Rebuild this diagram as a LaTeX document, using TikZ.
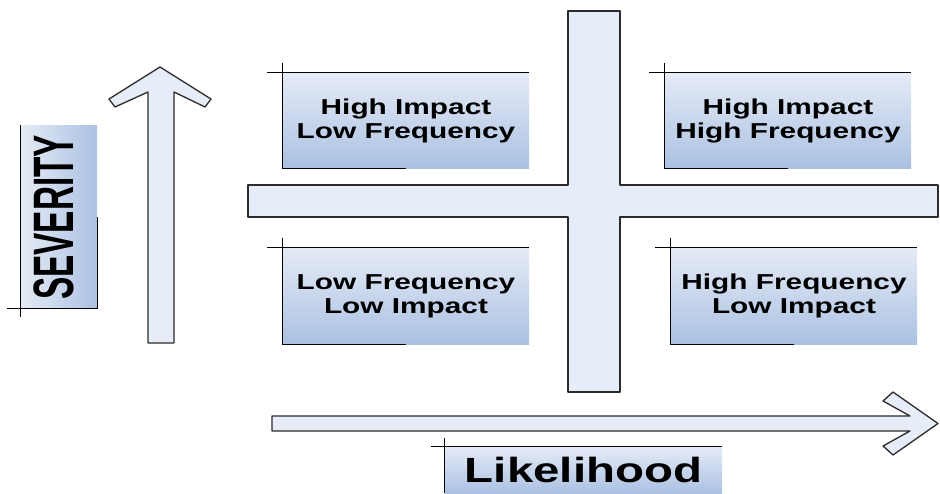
\documentclass[tikz,border=0pt]{standalone}
\usepackage{fontspec}
\newfontfamily\boxfont{Liberation Sans}[FakeStretch=1.38]
\newfontfamily\likefont{Liberation Sans}[FakeStretch=1.355]
\newfontfamily\sevfont{Liberation Sans}[FakeStretch=0.585]
\definecolor{barfill}{HTML}{E6EDF8}
\definecolor{barline}{HTML}{2B2B2B}
\definecolor{gradtop}{HTML}{E5EBF6}
\definecolor{gradbot}{HTML}{ABC1E2}
\begin{document}
\begin{tikzpicture}[x=1pt,y=-1pt,
  bar/.style={fill=barfill, draw=barline, line width=1.3pt, line join=round},
  quad/.style={minimum width=246pt, minimum height=95pt, inner sep=0pt,
    top color=gradtop, bottom color=gradbot, align=center,
    font=\boxfont\bfseries\fontsize{21.6}{24}\selectfont},
  tick/.style={draw=black, line width=0.9pt}]
\useasboundingbox (0,0) rectangle (940,493);

% central cross
\draw[bar] (248,185) -- (568,185) -- (568,11) -- (620,11) -- (620,185)
  -- (938,185) -- (938,217) -- (620,217) -- (620,392) -- (568,392)
  -- (568,217) -- (248,217) -- cycle;

% severity axis arrow
\draw[bar] (148,343) -- (148,92) -- (115,107) -- (109,99) -- (160,67)
  -- (211,99) -- (205,107) -- (174,92) -- (174,343) -- cycle;

% likelihood axis arrow
\draw[bar] (272,416) -- (910,416) -- (883,401) -- (893,392) -- (938,423.5)
  -- (893,455) -- (883,446) -- (910,431) -- (272,431) -- cycle;

% quadrant boxes
\node[quad] (hilf) at (406,120.5) {High Impact\\Low Frequency};
\node[quad] (hihf) at (788,120.5) {High Impact\\High Frequency};
\node[quad, minimum height=96pt] (lfli) at (406,296) {Low Frequency\\Low Impact};
\node[quad, minimum height=96pt] (hfli) at (794,296) {High Frequency\\Low Impact};

\foreach \q in {hilf,hihf,lfli,hfli}{
  \draw[tick] ([xshift=-16pt]\q.north west) -- (\q.north east);
  \draw[tick] ([yshift=10pt]\q.north west) -- (\q.south west) -- (\q.south);
}

% severity label
\node[minimum width=76pt, minimum height=183pt, inner sep=0pt,
  left color=gradtop, right color=gradbot] (sevbox) at (59,216.5) {};
\draw[tick] (sevbox.north west) -- ([yshift=-9pt]sevbox.south west);
\draw[tick] ([xshift=-14pt]sevbox.south west) -- (sevbox.south east) -- (sevbox.east);
\node[rotate=90, inner sep=0pt,
  font=\sevfont\bfseries\fontsize{57}{57}\selectfont] (sevlabel) at (53.5,217.5) {SEVERITY};

% likelihood label
\node[minimum width=277pt, minimum height=46pt, inner sep=0pt,
  top color=gradtop, bottom color=gradbot,
  font=\likefont\bfseries\fontsize{35}{35}\selectfont] (likely) at (583.5,470) {Likelihood};
\draw[tick] ([xshift=-14pt]likely.north west) -- (likely.north east);
\draw[tick] ([yshift=9pt]likely.north west) -- (likely.south west);
\end{tikzpicture}
\end{document}
